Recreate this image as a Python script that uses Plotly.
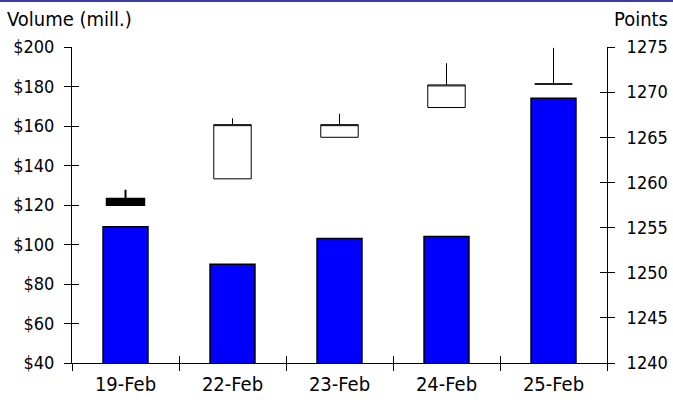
import plotly.graph_objects as go

# Trading days
dates = ["19-Feb", "22-Feb", "23-Feb", "24-Feb", "25-Feb"]

# Volume in millions of dollars (left axis)
volume = [109, 90, 103, 104, 174]

# Index points (right axis)
price_open = [1258.2, 1260.4, 1265.0, 1268.3, 1270.9]
price_high = [1259.2, 1267.1, 1267.6, 1273.2, 1274.9]
price_low = [1257.5, 1260.4, 1265.0, 1268.3, 1270.9]
price_close = [1257.5, 1266.4, 1266.4, 1270.8, 1270.9]

vol_ticks = [40, 60, 80, 100, 120, 140, 160, 180, 200]
vol_ticktext = ["$" + str(v) for v in vol_ticks]
pts_ticks = [1240, 1245, 1250, 1255, 1260, 1265, 1270, 1275]

FONT = "DejaVu Sans Condensed, Tahoma, DejaVu Sans, sans-serif"
FSIZE = 20      # titles and date labels
YTICK_SIZE = 18  # numeric axis labels
TICKLEN = 7

fig = go.Figure()

fig.add_trace(go.Bar(
    x=dates, y=volume, xaxis="x", yaxis="y",
    marker=dict(color="#0000FF", line=dict(color="#000000", width=1.5)),
    hoverinfo="skip", showlegend=False,
))

fig.add_trace(go.Candlestick(
    x=dates, open=price_open, high=price_high, low=price_low, close=price_close,
    xaxis="x", yaxis="y2",
    increasing=dict(fillcolor="#FFFFFF", line=dict(color="#000000", width=1)),
    decreasing=dict(fillcolor="#000000", line=dict(color="#000000", width=2)),
    whiskerwidth=0, hoverinfo="skip", showlegend=False,
))

# Empty helper traces so the overlay axes (inner tick halves) get drawn
fig.add_trace(go.Scatter(x=dates, y=[None] * len(dates), xaxis="x2", yaxis="y3",
                         mode="markers", hoverinfo="skip", showlegend=False))
fig.add_trace(go.Scatter(x=dates, y=[None] * len(dates), xaxis="x2", yaxis="y4",
                         mode="markers", hoverinfo="skip", showlegend=False))

vol_range = [vol_ticks[0], vol_ticks[-1]]
pts_range = [pts_ticks[0], pts_ticks[-1]]
cat_range = [-0.5, len(dates) - 0.5]

fig.update_layout(
    width=673, height=409,
    margin=dict(l=72, r=66, t=47, b=46),
    paper_bgcolor="white", plot_bgcolor="white",
    font=dict(family=FONT, size=FSIZE, color="#000000"),
    bargap=0.58, boxgap=0.5,
    xaxis=dict(
        type="category", categoryorder="array", categoryarray=dates,
        range=cat_range, tickson="boundaries", ticks="outside", ticklen=TICKLEN,
        tickcolor="#000000", showline=True, linecolor="#000000", linewidth=1,
        showgrid=False, zeroline=False, rangeslider=dict(visible=False),
        tickfont=dict(size=FSIZE), ticklabelstandoff=3, automargin=False,
        fixedrange=True,
    ),
    xaxis2=dict(
        type="category", categoryorder="array", categoryarray=dates,
        overlaying="x", anchor="y", range=cat_range, tickson="boundaries",
        ticks="inside", ticklen=TICKLEN, tickcolor="#000000",
        showticklabels=False, showline=False, showgrid=False, zeroline=False,
        automargin=False, fixedrange=True,
    ),
    yaxis=dict(
        range=vol_range, tickvals=vol_ticks, ticktext=vol_ticktext,
        ticks="outside", ticklen=TICKLEN, tickcolor="#000000",
        showline=True, linecolor="#000000", linewidth=1,
        showgrid=False, zeroline=False, tickfont=dict(size=YTICK_SIZE),
        ticklabelstandoff=6, automargin=False, fixedrange=True,
    ),
    yaxis3=dict(
        range=vol_range, tickvals=vol_ticks, overlaying="y", side="left",
        anchor="x", ticks="inside", ticklen=TICKLEN, tickcolor="#000000",
        showticklabels=False, showline=False, showgrid=False, zeroline=False,
        automargin=False, fixedrange=True,
    ),
    yaxis2=dict(
        range=pts_range, tickvals=pts_ticks, overlaying="y", side="right",
        anchor="x", ticks="outside", ticklen=TICKLEN, tickcolor="#000000",
        showline=True, linecolor="#000000", linewidth=1,
        showgrid=False, zeroline=False, tickfont=dict(size=YTICK_SIZE),
        ticklabelstandoff=8, automargin=False, fixedrange=True,
    ),
    yaxis4=dict(
        range=pts_range, tickvals=pts_ticks, overlaying="y", side="right",
        anchor="x", ticks="inside", ticklen=TICKLEN, tickcolor="#000000",
        showticklabels=False, showline=False, showgrid=False, zeroline=False,
        automargin=False, fixedrange=True,
    ),
    annotations=[
        dict(text="Volume (mill.)", xref="paper", yref="paper",
             x=-67 / 535, y=1 + 28 / 316, xanchor="left", yanchor="middle",
             showarrow=False, font=dict(size=FSIZE)),
        dict(text="Points", xref="paper", yref="paper",
             x=1 + 63 / 535, y=1 + 28 / 316, xanchor="right", yanchor="middle",
             showarrow=False, font=dict(size=FSIZE)),
    ],
    shapes=[
        dict(type="line", xref="paper", yref="paper",
             x0=-72 / 535, x1=1 + 66 / 535, y0=1 + 46 / 316, y1=1 + 46 / 316,
             line=dict(color="#3C3CA8", width=2)),
    ],
)

fig.write_html("out.html")
